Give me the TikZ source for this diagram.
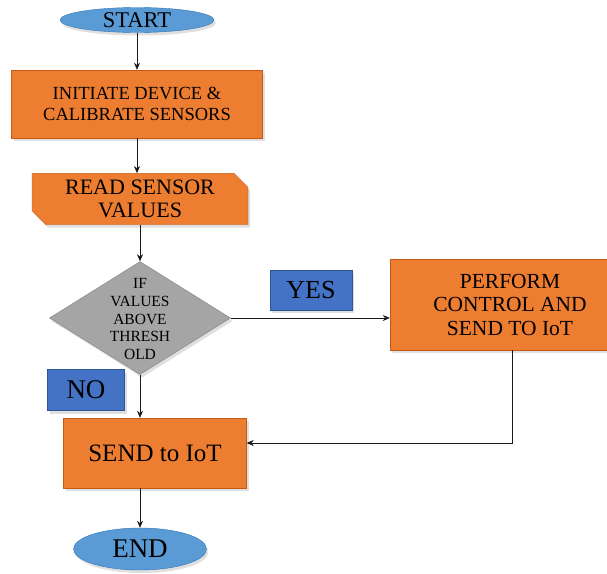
\documentclass[tikz,border=0pt]{standalone}
\usepackage{fontspec}
\setmainfont{Liberation Serif}
\usepackage{tikz}
\usetikzlibrary{arrows.meta, positioning, calc, shapes.geometric, shapes.misc, shadows}

\definecolor{boxorange}{HTML}{ED7D31}
\definecolor{boxorangedark}{HTML}{C55A11}
\definecolor{termblue}{HTML}{5B9BD5}
\definecolor{termbluedark}{HTML}{2E75B6}
\definecolor{tagblue}{HTML}{4472C4}
\definecolor{tagbluedark}{HTML}{2F5597}
\definecolor{decgray}{HTML}{A5A5A5}
\definecolor{decgraydark}{HTML}{7F7F7F}

\tikzset{
  shade/.style={drop shadow={opacity=0.25, shadow xshift=2pt, shadow yshift=-3pt}},
  terminal/.style={ellipse, shade, fill=termblue, draw=termbluedark, inner sep=0pt},
  process/.style={rectangle, shade, fill=boxorange, draw=boxorangedark, inner sep=0pt, align=center},
  readbox/.style={chamfered rectangle, chamfered rectangle corners={north east, south west},
    chamfered rectangle xsep=7pt, chamfered rectangle ysep=7pt,
    shade, fill=boxorange, draw=boxorangedark, inner sep=0pt, align=center},
  decision/.style={diamond, shade, fill=decgray, draw=decgraydark, inner sep=0pt},
  tag/.style={rectangle, shade, fill=tagblue, draw=tagbluedark, inner sep=0pt},
  flow/.style={-{Stealth[length=7pt, width=6pt]}, line width=0.6pt, black!90}
}

\begin{document}
\begin{tikzpicture}[x=1pt, y=-1pt]
  \useasboundingbox (0,0) rectangle (607,573);
  % Terminals and process boxes
  \node[terminal, minimum width=154, minimum height=25, font=\fontsize{22.5}{24}\selectfont]
    (start) at (137,20) {START};
  \node[process, minimum width=251, minimum height=68, font=\fontsize{18.5}{20.5}\selectfont]
    (init) at (137,104) {INITIATE DEVICE \&\\CALIBRATE SENSORS};
  \node[readbox, minimum width=216, minimum height=50, font=\fontsize{22}{22.5}\selectfont]
    (read) at (140,199) {READ SENSOR\\VALUES};
  % Decision
  \node[decision, minimum width=181, minimum height=113] (cond) at (140,318) {};
  \node[align=center, inner sep=0pt, font=\fontsize{15.5}{17.8}\selectfont]
    (condtext) at (140,319) {IF\\VALUES\\ABOVE\\THRESH\\OLD};
  \node[tag, minimum width=82, minimum height=40, font=\fontsize{26}{28}\selectfont]
    (yes) at (311,290) {YES};
  \node[process, minimum width=240, minimum height=91, font=\fontsize{21.5}{23.5}\selectfont]
    (perform) at (510,304.5) {PERFORM\\CONTROL AND\\SEND TO IoT};
  \node[tag, minimum width=77, minimum height=41, font=\fontsize{27}{29}\selectfont]
    (no) at (86,390) {NO};
  \node[process, minimum width=183, minimum height=70, font=\fontsize{25}{27}\selectfont]
    (send) at (155,453) {SEND to IoT};
  \node[terminal, minimum width=133, minimum height=42, font=\fontsize{27}{29}\selectfont]
    (end) at (140,549) {END};
  % Connectors
  \coordinate (ret) at (512,443);
  \draw[flow] (start) -- (init);
  \draw[flow] (init.south) -- (init.south |- read.north);
  \draw[flow] (read.south -| cond.north) -- (cond.north);
  \draw[flow] (cond.east) -- (cond.east -| perform.west);
  \draw[flow] (cond.south) -- (cond.south |- send.north);
  \draw[flow] (perform.south -| ret) -- (ret) -- (ret -| send.east);
  \draw[flow] (send.south -| end.north) -- (end.north);
\end{tikzpicture}
\end{document}
